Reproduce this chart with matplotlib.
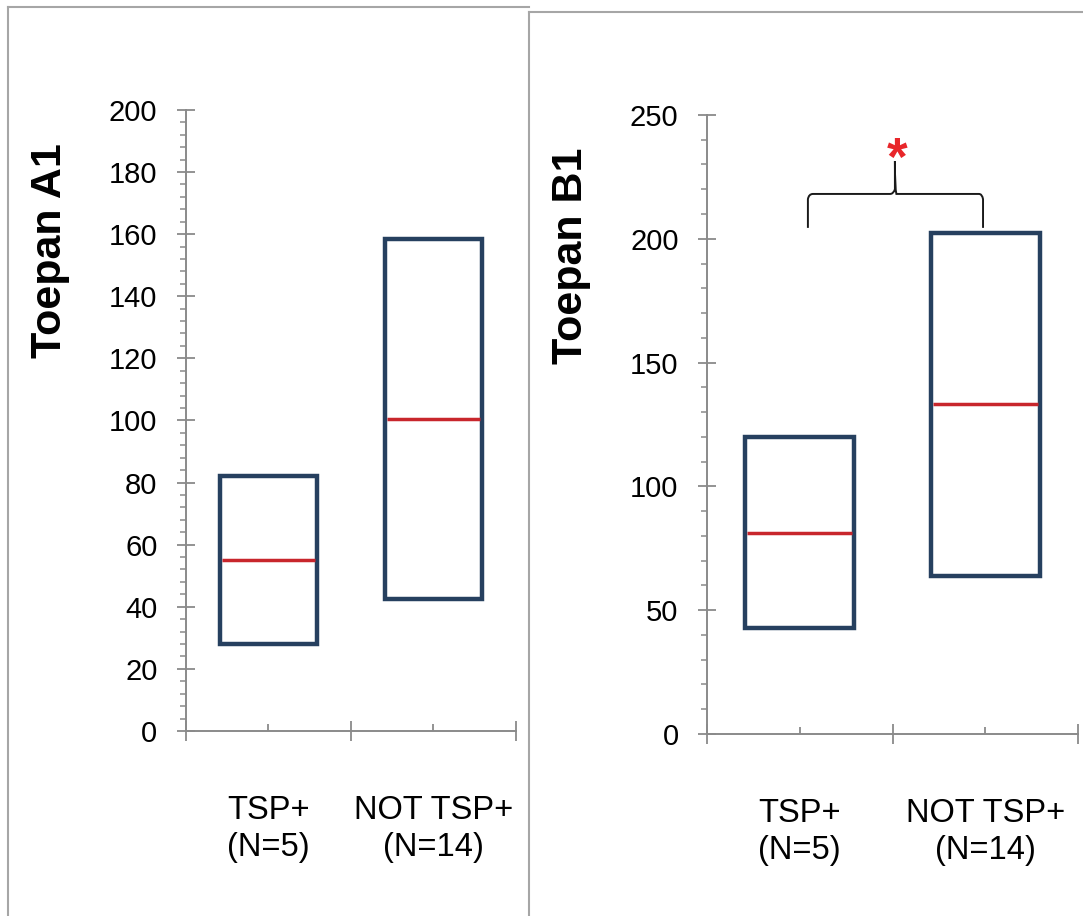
import matplotlib
matplotlib.use("Agg")
import matplotlib.pyplot as plt
from matplotlib.lines import Line2D
from matplotlib.path import Path
from matplotlib.patches import PathPatch

plt.rcParams['font.family'] = ['Liberation Sans', 'DejaVu Sans']

# --- data ---
groups = ["TSP+\n(N=5)", "NOT TSP+\n(N=14)"]
a1_low = [28, 42.5]
a1_high = [82, 158.5]
a1_mid = [55, 100.5]
b1_low = [43, 64]
b1_high = [120, 202.5]
b1_mid = [81, 133.3]

BOX = '#26405f'
MED = '#c8262c'
AXC = '#8a8a8a'
FRAME = '#a6a6a6'


def panel(ax, low, high, mid, ymax, major, minor, ylab):
    pos = [0.5, 1.5]
    w = 0.59
    heights = [h - l for h, l in zip(high, low)]
    ax.bar(pos, heights, bottom=low, width=w, fill=False,
           edgecolor=BOX, linewidth=3.2, zorder=3)
    for p, m in zip(pos, mid):
        ax.hlines(m, p - w / 2 + 0.012, p + w / 2 - 0.012, color=MED,
                  linewidth=2.5, zorder=4)
    ax.set_xlim(0, 2)
    ax.set_ylim(0, ymax)
    for s in ['top', 'right']:
        ax.spines[s].set_visible(False)
    for s in ['left', 'bottom']:
        ax.spines[s].set_color(AXC)
        ax.spines[s].set_linewidth(1.4)
        ax.spines[s].set_zorder(1)
    ax.set_yticks(range(0, ymax + 1, major))
    ax.set_yticks(range(0, ymax + 1, minor), minor=True)
    ax.set_xticks([0, 1, 2])
    ax.set_xticklabels([])
    ax.set_xticks(pos, minor=True)
    ax.set_xticklabels(groups, minor=True, fontsize=23.5, linespacing=1.25)
    ax.tick_params(axis='y', which='major', direction='inout', length=13,
                   width=1.3, color=AXC, labelsize=21, pad=14)
    ax.tick_params(axis='y', which='minor', direction='out', length=4.5,
                   width=1.1, color=AXC)
    ax.tick_params(axis='x', which='major', direction='inout', length=14,
                   width=1.3, color=AXC)
    ax.tick_params(axis='x', which='minor', direction='in', length=5,
                   width=1.3, color=AXC, pad=46)
    ax.set_ylabel(ylab, fontsize=31, fontweight='bold')


fig = plt.figure(figsize=(10.83, 9.16), dpi=100)

# panel frames (figure pixel positions)
W, H = 1083, 916
fig.add_artist(Line2D([8 / W, 529 / W], [1 - 7 / H, 1 - 7 / H], color=FRAME, lw=1.5))
fig.add_artist(Line2D([8 / W, 8 / W], [1 - 7 / H, 0], color=FRAME, lw=1.5))
fig.add_artist(Line2D([529 / W, 1], [1 - 12 / H, 1 - 12 / H], color=FRAME, lw=1.5))
fig.add_artist(Line2D([529 / W, 529 / W], [1 - 12 / H, 0], color=FRAME, lw=1.5))

ax1 = fig.add_axes([0.1717, 0.2020, 0.3047, 0.678])
panel(ax1, a1_low, a1_high, a1_mid, 200, 20, 4, "Toepan A1")
ax1.yaxis.set_label_coords(-0.352, 0.773)

ax2 = fig.add_axes([0.6528, 0.1987, 0.3426, 0.6758])
panel(ax2, b1_low, b1_high, b1_mid, 250, 50, 10, "Toepan B1")
ax2.yaxis.set_label_coords(-0.312, 0.772)

# significance brace between the two groups
verts = [(0.544, 204.4), (0.544, 216.0), (0.549, 218.1), (0.571, 218.1),
         (0.987, 218.1), (1.005, 218.1), (1.013, 220.0), (1.013, 231.4),
         (1.013, 220.0), (1.021, 218.1), (1.040, 218.1),
         (1.466, 218.1), (1.483, 218.1), (1.488, 216.0), (1.488, 204.4)]
codes = [Path.MOVETO, Path.LINETO, Path.CURVE3, Path.CURVE3,
         Path.LINETO, Path.CURVE3, Path.CURVE3, Path.LINETO,
         Path.CURVE3, Path.CURVE3, Path.LINETO,
         Path.LINETO, Path.CURVE3, Path.CURVE3, Path.LINETO]
ax2.add_patch(PathPatch(Path(verts, codes), fill=False, edgecolor='#1a1a1a',
                        linewidth=1.4, clip_on=False))
ax2.text(1.024, 221.5, "*", color='#e8262a', fontsize=38, fontweight='bold',
         ha='center', va='bottom', clip_on=False)

fig.savefig("out.png", dpi=100)
